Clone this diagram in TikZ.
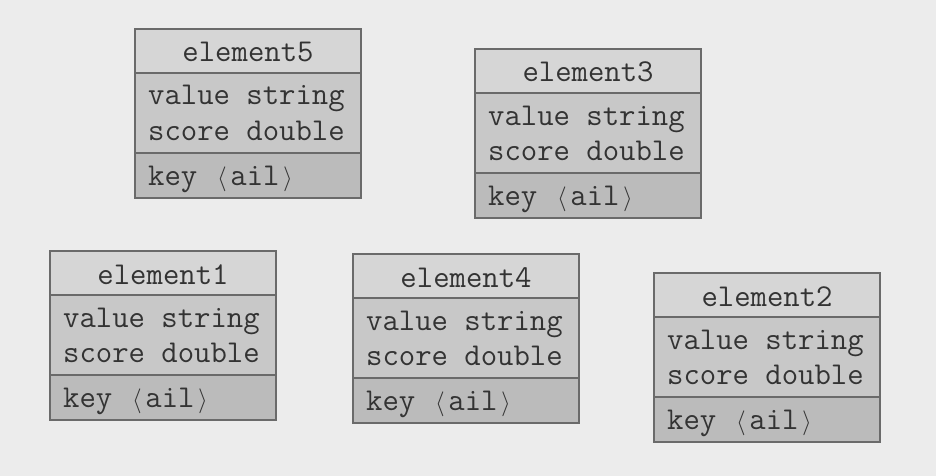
\documentclass[tikz,border=0pt]{standalone}
\usepackage{fontspec}
\definecolor{bg}{HTML}{ECECEC}
\definecolor{titlefill}{HTML}{D6D6D6}
\definecolor{midfill}{HTML}{C8C8C8}
\definecolor{keyfill}{HTML}{BBBBBB}
\definecolor{edge}{HTML}{6A6A6A}
\definecolor{ink}{HTML}{333333}
\newcommand\lbr{\makebox[0.525em]{$\langle$}}
\newcommand\rbr{\makebox[0.525em]{$\rangle$}}
\tikzset{
  comp/.style={draw=edge, line width=1.2pt, inner sep=0pt, outer sep=0pt,
    minimum width=226pt, anchor=north west},
  titlec/.style={comp, fill=titlefill, minimum height=44pt},
  midc/.style={comp, fill=midfill, minimum height=80pt},
  keyc/.style={comp, fill=keyfill, minimum height=45pt},
  txt/.style={inner sep=0pt, text=ink, font=\ttfamily\fontsize{31.8}{35}\selectfont}
}
\newcommand\umlbox[4]{%
  \node[titlec] (#1t) at (#2,#3) {};
  \node[midc] (#1m) at (#2,#3+44) {};
  \node[keyc] (#1k) at (#2,#3+124) {};
  \node[txt, anchor=base] (#1n) at (#2+113,#3+33) {#4};
  \node[txt, anchor=base west] (#1v) at (#2+13,#3+76) {value string};
  \node[txt, anchor=base west] (#1s) at (#2+13,#3+111) {score double};
  \node[txt, anchor=base west] (#1y) at (#2+13,#3+156) {key \lbr ail\rbr};
}
\begin{document}
\begin{tikzpicture}[x=1pt,y=-1pt]
\fill[bg] (0,0) rectangle (936,476);
\useasboundingbox (0,0) rectangle (936,476);
\umlbox{e5}{135}{29}{element5}
\umlbox{e3}{475}{49}{element3}
\umlbox{e1}{50}{251}{element1}
\umlbox{e4}{353}{254}{element4}
\umlbox{e2}{654}{273}{element2}
\end{tikzpicture}
\end{document}
